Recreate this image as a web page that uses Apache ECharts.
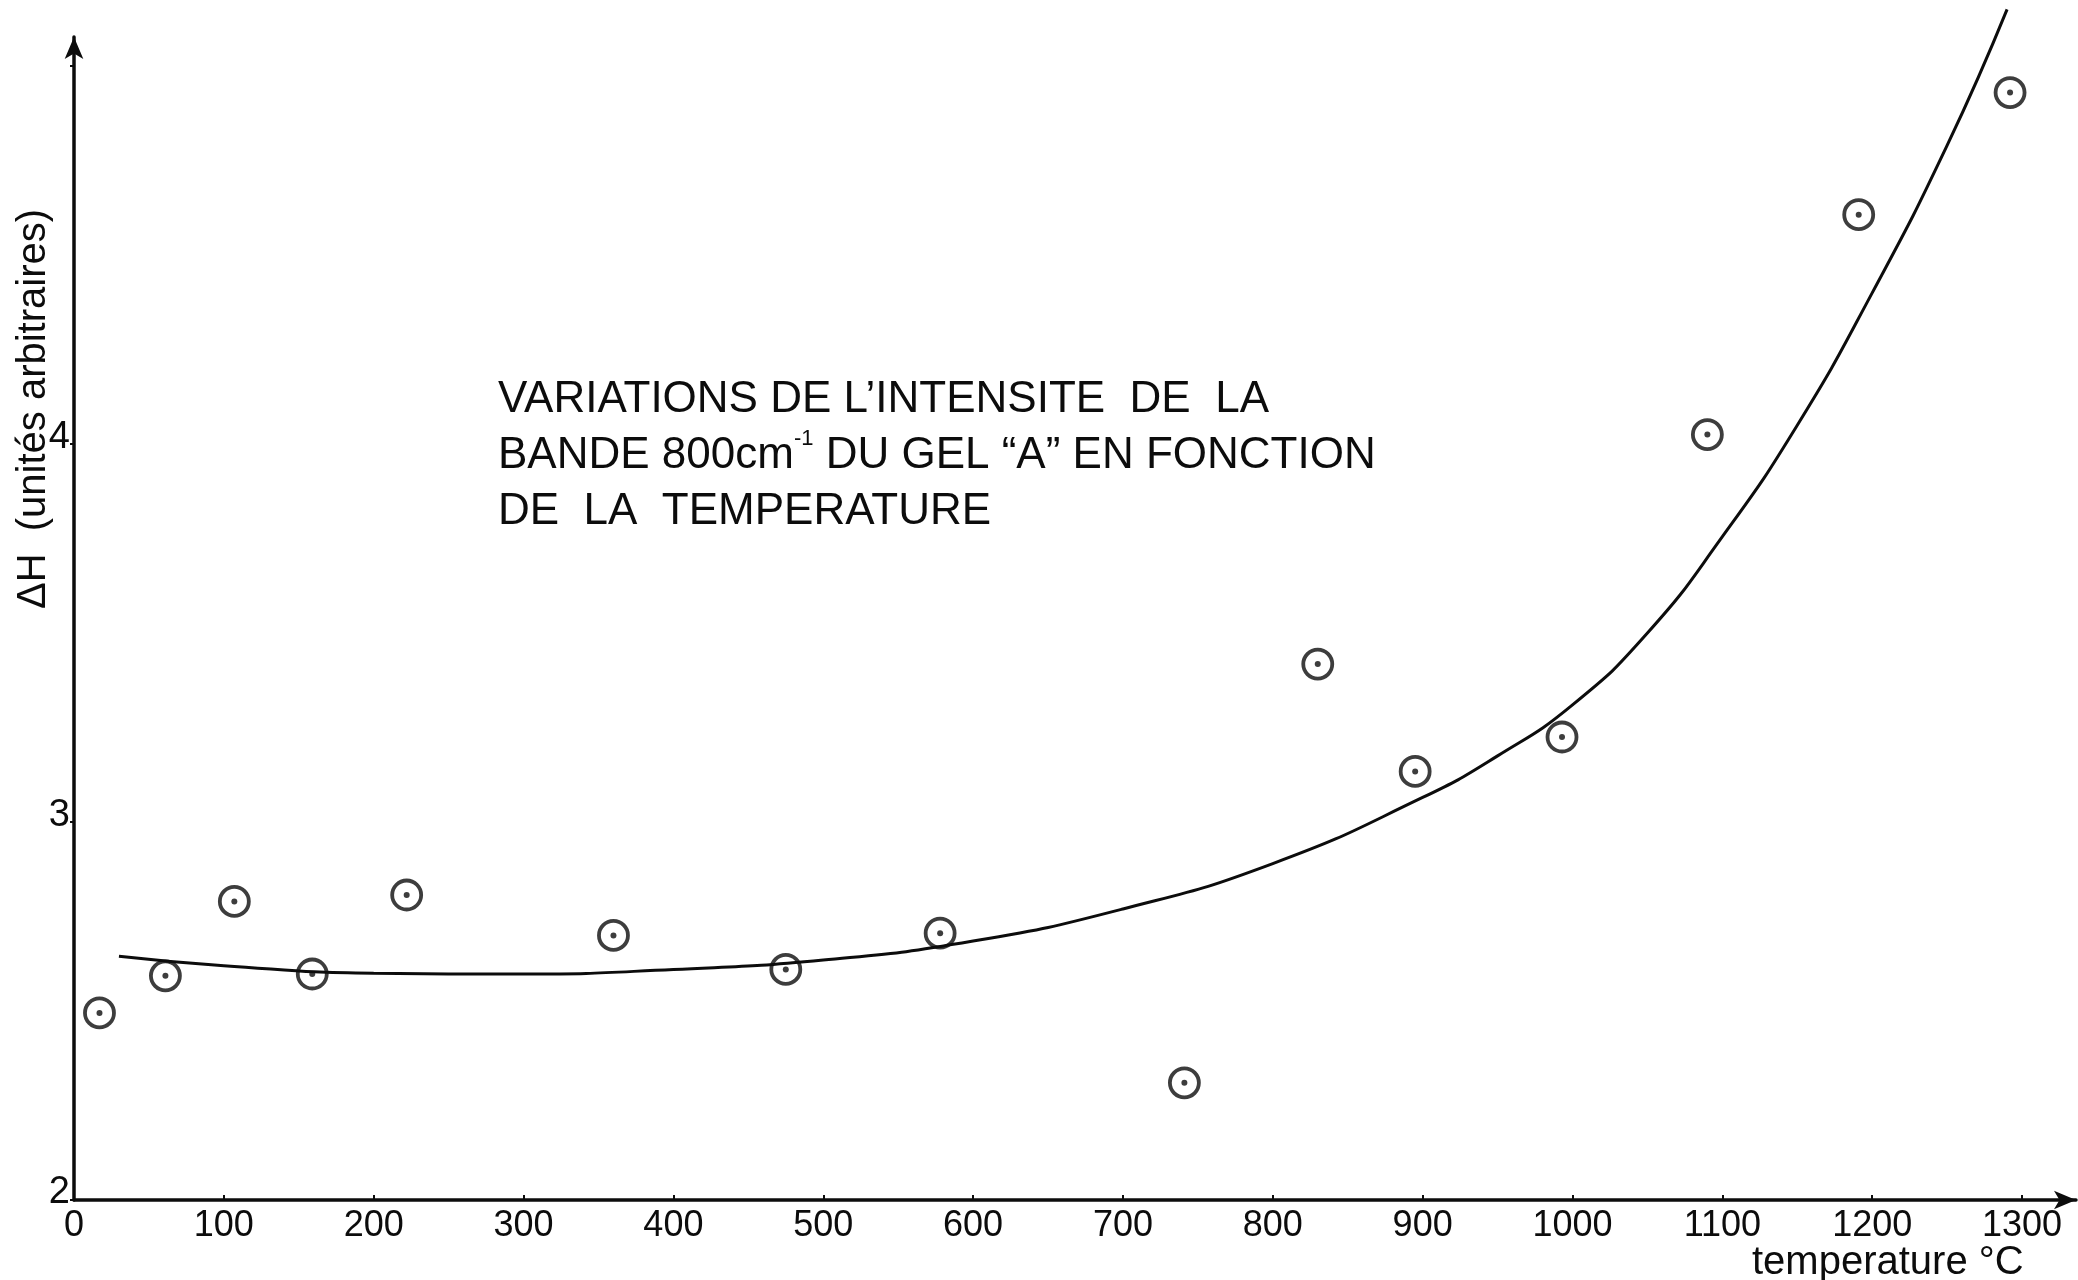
<!DOCTYPE html>
<html>
<head>
<meta charset="utf-8">
<title>ΔH – bande 800 cm-1 du gel A</title>
<script src="https://cdn.jsdelivr.net/npm/echarts@6/dist/echarts.min.js"></script>
<style>
  html, body { margin: 0; padding: 0; background: #ffffff; }
  #chart { width: 2078px; height: 1280px; }
</style>
</head>
<body>
<div id="chart"></div>
<script>
// Measured points: temperature (°C) and ΔH (arbitrary units)
const temperature = [17, 61, 107, 159, 222, 360, 475, 578, 741, 830, 895, 993, 1090, 1191, 1292];
const deltaH = [2.495, 2.593, 2.79, 2.598, 2.807, 2.70, 2.61, 2.706, 2.31, 3.418, 3.134, 3.225, 4.025, 4.607, 4.93];

// Hand-fitted trend curve
const curveT = [30, 100, 200, 300, 400, 500, 600, 700, 800, 900, 950, 1000, 1050, 1100, 1150, 1200, 1250, 1290];
const curveH = [2.645, 2.62, 2.60, 2.598, 2.61, 2.635, 2.685, 2.77, 2.89, 3.065, 3.175, 3.31, 3.50, 3.755, 4.05, 4.40, 4.79, 5.15];

// Axis tick labels
const xTickLabels = [0, 100, 200, 300, 400, 500, 600, 700, 800, 900, 1000, 1100, 1200, 1300];
const yTickLabels = [2, 3, 4];

const titleLines = [
  'VARIATIONS DE L\u2019INTENSITE  DE  LA',
  'BANDE 800cm{sup|-1} DU GEL \u201CA\u201D EN FONCTION',
  'DE  LA  TEMPERATURE'
];

const ink = '#0c0c0c';
const chart = echarts.init(document.getElementById('chart'), null, { renderer: 'canvas' });

const points = temperature.map((t, i) => [t, deltaH[i]]);
const curve = curveT.map((t, i) => [t, curveH[i]]);

chart.setOption({
  backgroundColor: '#ffffff',
  animation: false,
  grid: { left: 74, right: 2, top: 37, bottom: 80, containLabel: false },
  xAxis: {
    type: 'value',
    min: 0,
    max: 1336,
    interval: 100,
    splitLine: { show: false },
    axisLine: {
      show: true,
      lineStyle: { color: ink, width: 3.5 },
      symbol: ['none', 'arrow'],
      symbolSize: [14, 22]
    },
    axisTick: { show: true, inside: true, length: 5, lineStyle: { color: ink, width: 2 } },
    axisLabel: {
      color: ink,
      fontFamily: 'Liberation Sans',
      fontSize: 36,
      margin: 8,
      showMaxLabel: false,
      formatter: v => xTickLabels.includes(v) ? String(v) : ''
    }
  },
  yAxis: {
    type: 'value',
    min: 2,
    max: 5.077,
    interval: 1,
    splitLine: { show: false },
    axisLine: {
      show: true,
      lineStyle: { color: ink, width: 3.5 },
      symbol: ['none', 'arrow'],
      symbolSize: [14, 22]
    },
    axisTick: { show: true, length: 4, lineStyle: { color: ink, width: 2 } },
    axisLabel: {
      color: ink,
      fontFamily: 'Liberation Sans',
      fontSize: 38,
      margin: 4,
      verticalAlign: 'bottom',
      lineHeight: 14,
      showMaxLabel: false,
      formatter: v => yTickLabels.includes(v) ? String(v) : ''
    }
  },
  series: [
    {
      name: 'courbe',
      type: 'line',
      data: curve,
      smooth: 0.5,
      showSymbol: false,
      clip: false,
      lineStyle: { color: ink, width: 3 },
      z: 2
    },
    {
      name: 'mesures',
      type: 'scatter',
      data: points,
      symbol: 'circle',
      symbolSize: 29,
      itemStyle: { color: 'rgba(255,255,255,0)', borderColor: ink, borderWidth: 3.8 },
      z: 3
    },
    {
      name: 'centres',
      type: 'scatter',
      data: points,
      symbol: 'circle',
      symbolSize: 6,
      itemStyle: { color: ink },
      z: 4
    }
  ],
  graphic: [
    {
      type: 'text',
      left: 498,
      top: 372,
      style: {
        text: titleLines.join('\n'),
        fill: ink,
        font: '44px "Liberation Sans"',
        lineHeight: 56,
        rich: {
          sup: { fontSize: 22, verticalAlign: 'top', lineHeight: 30, fill: ink, fontFamily: 'Liberation Sans', padding: [0, 0, 20, 0] }
        }
      }
    },
    {
      type: 'text',
      x: 34,
      y: 409,
      rotation: Math.PI / 2,
      style: {
        text: '\u0394H  (unités arbitraires)',
        fill: ink,
        font: '40px "Liberation Sans"',
        align: 'center',
        verticalAlign: 'middle'
      }
    },
    {
      type: 'text',
      x: 1752,
      y: 1263,
      style: {
        text: 'temperature \u00B0C',
        fill: ink,
        font: '40px "Liberation Sans"',
        align: 'left',
        verticalAlign: 'middle'
      }
    }
  ]
});
</script>
</body>
</html>
